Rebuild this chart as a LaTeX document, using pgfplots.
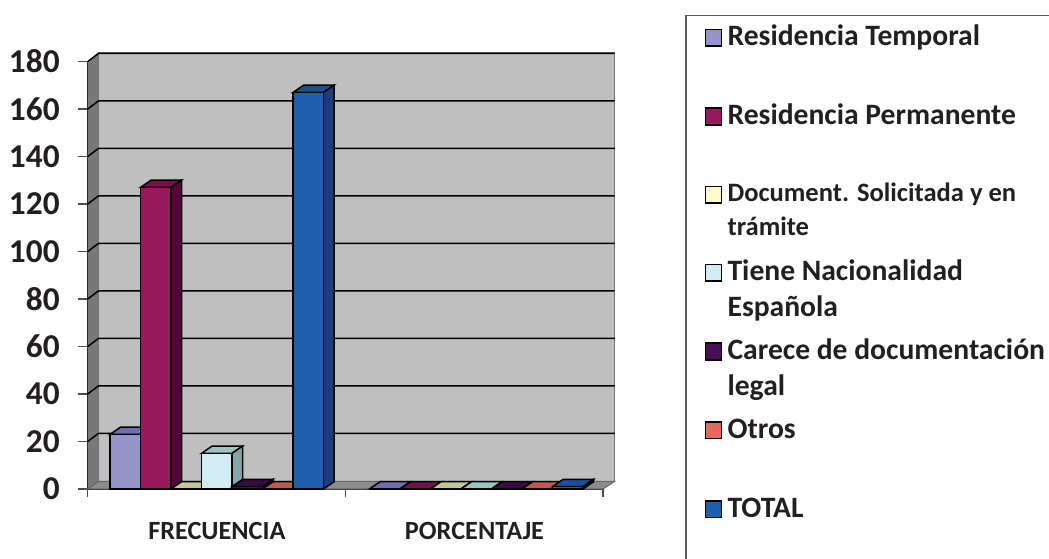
\documentclass[border=0pt]{standalone}
\usepackage{pgfplots}
\pgfplotsset{compat=1.18}
\usepackage{fontspec}
\setmainfont{Carlito}
\definecolor{txt}{HTML}{231F20}
\definecolor{aF}{HTML}{9595C9}\definecolor{aS}{HTML}{6E6EB0}\definecolor{aT}{HTML}{6E6EB0}
\definecolor{bF}{HTML}{99195F}\definecolor{bS}{HTML}{55043B}\definecolor{bT}{HTML}{72124A}
\definecolor{cF}{HTML}{FFFBC8}\definecolor{cS}{HTML}{A5A57A}\definecolor{cT}{HTML}{C5C596}
\definecolor{dF}{HTML}{D2ECF3}\definecolor{dS}{HTML}{84A8A8}\definecolor{dT}{HTML}{9DC4C4}
\definecolor{eF}{HTML}{4A0D57}\definecolor{eS}{HTML}{2E0636}\definecolor{eT}{HTML}{3A0A44}
\definecolor{fF}{HTML}{E8685F}\definecolor{fS}{HTML}{9E3F3A}\definecolor{fT}{HTML}{C5574F}
\definecolor{gF}{HTML}{1F60AE}\definecolor{gS}{HTML}{1B3D78}\definecolor{gT}{HTML}{18509A}
\newcommand{\threedbar}[3]{% left x, value, colour prefix
  \pgfmathsetmacro{\xa}{#1}\pgfmathsetmacro{\xb}{#1+30.5}\pgfmathsetmacro{\xc}{#1+41.2}\pgfmathsetmacro{\xd}{#1+10.7}
  \pgfmathsetmacro{\va}{#2}\pgfmathsetmacro{\vb}{#2+3.1}\pgfmathsetmacro{\vz}{3.1}
  \addplot[forget plot,fill=#3T,draw=black,line width=1.1pt] coordinates {(\xa,\va)(\xd,\vb)(\xc,\vb)(\xb,\va)} --cycle;
  \addplot[forget plot,fill=#3S,draw=black,line width=1.1pt] coordinates {(\xb,0)(\xc,\vz)(\xc,\vb)(\xb,\va)} --cycle;
  \addplot[forget plot,fill=#3F,draw=black,line width=1.1pt] coordinates {(\xa,0)(\xa,\va)(\xb,\va)(\xb,0)} --cycle;
}
\newcommand{\legtxt}[3]{\parbox[t]{250pt}{\fontsize{#1}{#2}\selectfont\strut #3}}
\begin{document}
\begin{tikzpicture}
\path[use as bounding box] (-65.775pt,-51.75pt) rectangle (720.975pt,366.75pt);
\begin{axis}[
  scale only axis, width=386.475pt, height=320.6pt,
  xmin=87.7, xmax=603, ymin=0, ymax=180, clip=false,
  axis x line=bottom, axis y line=left, axis line style={-,line width=1pt,black},
  ytick={0,20,...,180},
  ytick style={line width=1pt,color=black!70}, tick align=outside,
  major tick length=7.5pt,
  yticklabel style={font=\bfseries\fontsize{25}{28}\selectfont,text=txt,/pgf/number format/assume math mode=true,xshift=-10pt},
  xtick={216.9,474.5}, xticklabels={FRECUENCIA,PORCENTAJE},
  minor xtick={87.7,345.5,603},
  x tick style={line width=1pt,color=black!70},
  major x tick style={draw=none},
  minor tick length=6pt,
  xticklabel style={font=\bfseries\fontsize{19.7}{22}\selectfont,text=txt,yshift=-14pt},
  legend style={at={(axis cs:704.5,197.4)},anchor=north west,draw=none,fill=none,inner sep=0pt,
     row sep=38.7pt,nodes={inner sep=0pt,text=txt,font=\bfseries}},
  legend cell align=left,
  legend image code/.code={\draw[#1,line width=1.2pt] (0pt,-9pt) rectangle (12pt,3.5pt);\path[draw=none,fill=none] (0pt,0pt) -- (16.5pt,0pt);},
]
% legend frame, cut by the page edge
\draw[line width=1pt,black!65] (axis cs:686,-40) -- (axis cs:686,199.4) -- (axis cs:1060,199.4);
% walls
\addplot[forget plot,fill=black!53,draw=none] coordinates {(87.7,0)(98.4,3.2)(98.4,183.6)(87.7,180)} --cycle;
\addplot[forget plot,fill=black!25,draw=black!55,line width=0.8pt] coordinates {(98.4,3.2)(98.4,183.6)(614.5,183.6)(614.5,3.2)} --cycle;
\addplot[forget plot,fill=black!45,draw=black!60,line width=0.8pt] coordinates {(87.7,0)(98.4,3.2)(614.5,3.2)(603,0)} --cycle;
% gridlines
\pgfplotsinvokeforeach{20,40,60,80,100,120,140,160,180}{
  \pgfmathsetmacro{\gv}{#1+3.4}
  \addplot[forget plot,black,line width=1.1pt] coordinates {(87.7,#1)(98.4,\gv)(614.5,\gv)};
}
% FRECUENCIA
\threedbar{110}{23}{a}
\threedbar{140.5}{127}{b}
\threedbar{171}{0}{c}
\threedbar{201.5}{15}{d}
\threedbar{232}{1}{e}
\threedbar{262.5}{0}{f}
\threedbar{293}{167}{g}
% PORCENTAJE
\threedbar{369.5}{0}{a}
\threedbar{400}{0}{b}
\threedbar{430.5}{0}{c}
\threedbar{461}{0}{d}
\threedbar{491.5}{0}{e}
\threedbar{522}{0}{f}
\threedbar{552.5}{1}{g}
% legend
\addlegendimage{fill=aF,draw=black}\addlegendentry{\legtxt{22.2}{27}{Residencia Temporal}}
\addlegendimage{fill=bF,draw=black}\addlegendentry{\legtxt{22.2}{27}{Residencia Permanente}}
\addlegendimage{fill=cF,draw=black}\addlegendentry{\legtxt{19.9}{25.5}{Document. Solicitada y en\\trámite}}
\addlegendimage{fill=dF,draw=black}\addlegendentry{\legtxt{22.2}{27}{Tiene Nacionalidad\\Española}}
\addlegendimage{fill=eF,draw=black}\addlegendentry{\legtxt{22.2}{27}{Carece de documentación\\legal}}
\addlegendimage{fill=fF,draw=black}\addlegendentry{\legtxt{22.2}{27}{Otros}}
\addlegendimage{fill=gF,draw=black}\addlegendentry{\legtxt{22.2}{27}{TOTAL}}
\end{axis}
\end{tikzpicture}
\end{document}
